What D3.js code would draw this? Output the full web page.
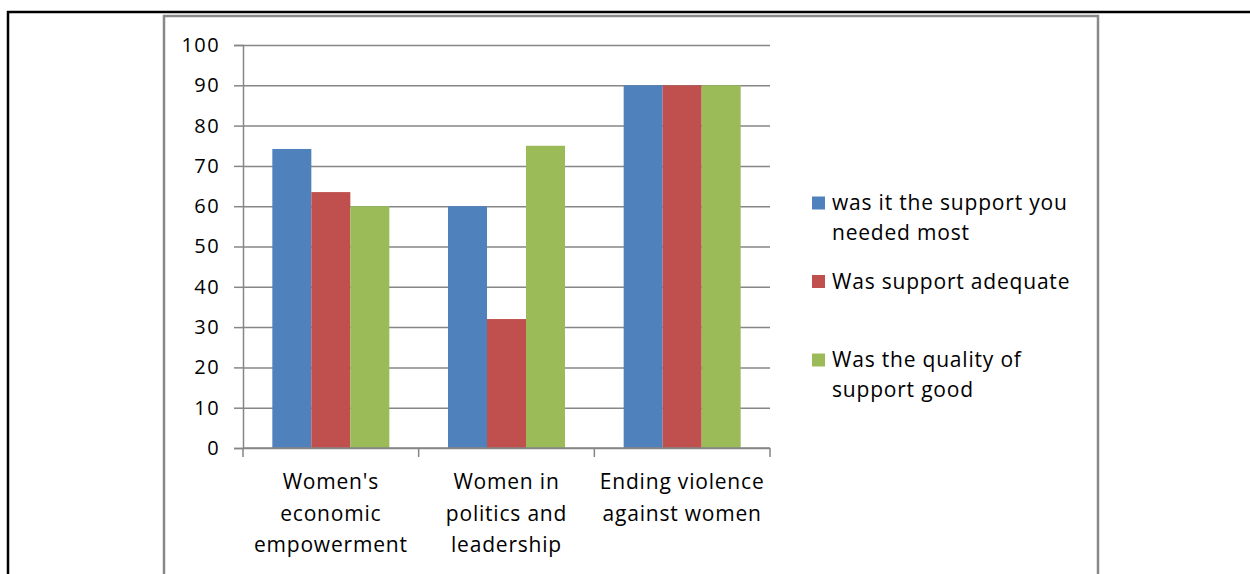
<!DOCTYPE html>
<html>
<head>
<meta charset="utf-8">
<script src="https://cdn.jsdelivr.net/npm/d3@7.9.0/dist/d3.min.js"></script>
<style>
  html, body { margin: 0; padding: 0; background: #fff; }
  svg { display: block; }
  text { font-family: "Open Sans", "Liberation Sans", sans-serif; fill: #000; }
</style>
</head>
<body>
<svg id="chart" width="1250" height="574"></svg>
<script>
// data
const categories = [
  ["Women's", "economic", "empowerment"],
  ["Women in", "politics and", "leadership"],
  ["Ending violence", "against women"]
];
const seriesNames = [
  ["was it the support you", "needed most"],
  ["Was support adequate"],
  ["Was the quality of", "support good"]
];
const neededMost = [74.2, 60, 90];
const adequate   = [63.5, 32, 90];
const quality    = [60, 75, 90];
const yTicks     = [0, 10, 20, 30, 40, 50, 60, 70, 80, 90, 100];
const colors     = ['#4F81BD', '#C0504D', '#9BBB59'];

const series = [neededMost, adequate, quality];

const svg = d3.select('#chart');

// outer page frame (black) and chart frame (gray)
svg.append('line').attr('x1', 7).attr('x2', 1250).attr('y1', 12).attr('y2', 12)
   .attr('stroke', '#000').attr('stroke-width', 2.5);
svg.append('line').attr('x1', 8).attr('x2', 8).attr('y1', 11).attr('y2', 574)
   .attr('stroke', '#000').attr('stroke-width', 2.5);
svg.append('rect').attr('x', 164).attr('y', 16).attr('width', 934).attr('height', 600)
   .attr('fill', 'none').attr('stroke', '#888').attr('stroke-width', 2.5);

const plot = { left: 243, right: 770, top: 45, bottom: 448 };

const x0 = d3.scaleBand()
  .domain(d3.range(categories.length))
  .range([plot.left, plot.right])
  .paddingInner(0.334).paddingOuter(0.167);
const x1 = d3.scaleBand().domain(d3.range(series.length)).range([0, x0.bandwidth()]);
const y = d3.scaleLinear().domain([0, 100]).range([plot.bottom, plot.top]);

// gridlines + y ticks
const yAxis = d3.axisLeft(y).tickValues(yTicks).tickSize(9).tickPadding(14);
const yG = svg.append('g').attr('transform', `translate(${plot.left},0)`).call(yAxis);
yG.select('.domain').attr('stroke', '#868686').attr('stroke-width', 1.5);
yG.selectAll('.tick line').attr('stroke', '#868686').attr('stroke-width', 1.5);
yG.selectAll('.tick').append('line')
  .attr('x1', 0).attr('x2', plot.right - plot.left)
  .attr('stroke', '#868686').attr('stroke-width', 1.5);
yG.selectAll('.tick text').style('font-size', '20px').style('letter-spacing', '1.4px')
  .style('font-family', '"Open Sans", sans-serif');

// bars
const groups = svg.append('g').selectAll('g')
  .data(categories.map((c, i) => i))
  .join('g')
  .attr('transform', i => `translate(${x0(i)},0)`);
groups.selectAll('rect')
  .data(i => series.map((s, k) => ({ k, v: s[i] })))
  .join('rect')
  .attr('x', d => x1(d.k))
  .attr('width', x1.bandwidth())
  .attr('y', d => y(d.v))
  .attr('height', d => y(0) - y(d.v))
  .attr('fill', d => colors[d.k]);

// x axis line + ticks at category boundaries
const step = x0.step();
const xTicks = d3.range(categories.length + 1).map(i => plot.left + i * step);
svg.append('line').attr('x1', plot.left).attr('x2', plot.right)
   .attr('y1', plot.bottom).attr('y2', plot.bottom)
   .attr('stroke', '#868686').attr('stroke-width', 1.5);
svg.append('g').selectAll('line').data(xTicks).join('line')
   .attr('x1', d => d).attr('x2', d => d)
   .attr('y1', plot.bottom).attr('y2', plot.bottom + 9)
   .attr('stroke', '#868686').attr('stroke-width', 1.5);

// category labels
const catLabels = svg.append('g').selectAll('text')
  .data(categories).join('text')
  .attr('text-anchor', 'middle')
  .style('font-size', '21px')
  .style('letter-spacing', '0.8px');
catLabels.selectAll('tspan')
  .data((lines, i) => lines.map(l => ({ l, i })))
  .join('tspan')
  .attr('x', d => x0(d.i) + x0.bandwidth() / 2)
  .attr('y', (d, j) => 489 + j * 31.5)
  .text(d => d.l);

// legend
const legendY = [203, 281.5, 360];
const leg = svg.append('g').selectAll('g')
  .data(seriesNames).join('g')
  .attr('transform', (d, i) => `translate(812,${legendY[i]})`);
leg.append('rect').attr('x', 0).attr('y', -6.5).attr('width', 13).attr('height', 13)
   .attr('fill', (d, i) => colors[i]);
leg.append('text').style('font-size', '21px').style('letter-spacing', '0.8px')
  .selectAll('tspan').data(d => d).join('tspan')
  .attr('x', 20).attr('y', (d, j) => 7 + j * 30)
  .text(d => d);
</script>
</body>
</html>
